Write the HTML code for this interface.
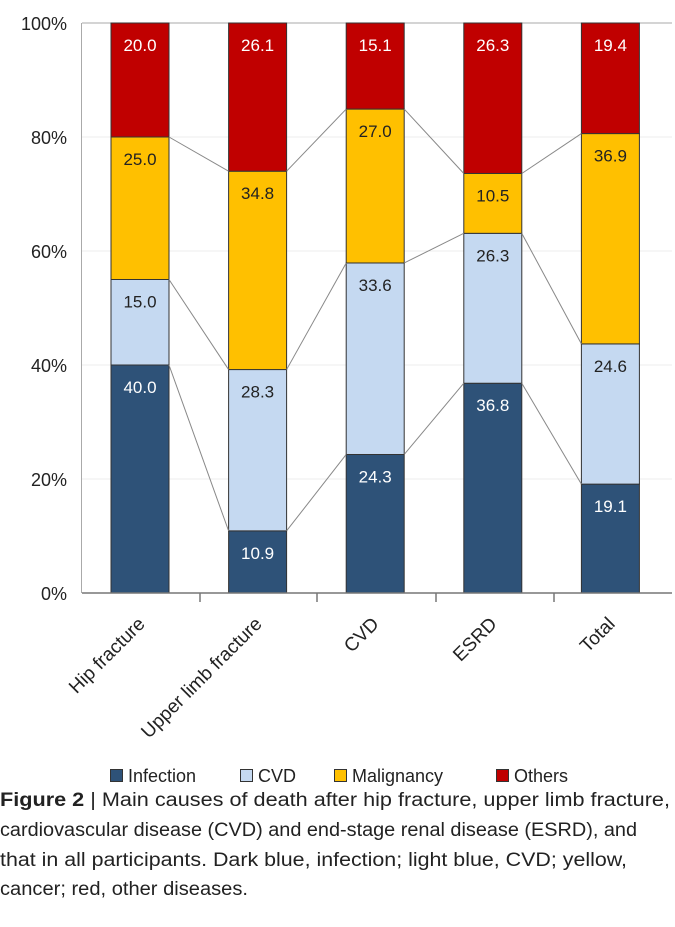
<!DOCTYPE html>
<html><head><style>
body{margin:0;background:#fff;}
svg{display:block;font-family:"Liberation Sans",sans-serif;}
</style></head><body>
<svg width="675" height="927" viewBox="0 0 675 927">
<g stroke="#eee" stroke-width="1">
<line x1="82" y1="23" x2="672" y2="23"/><line x1="82" y1="137" x2="672" y2="137"/><line x1="82" y1="251" x2="672" y2="251"/><line x1="82" y1="365" x2="672" y2="365"/><line x1="82" y1="479" x2="672" y2="479"/>
</g>
<line x1="81.5" y1="23" x2="81.5" y2="593" stroke="#aaa"/>
<line x1="82" y1="23" x2="672" y2="23" stroke="#aaa"/>
<g fill="#222" font-size="18" text-anchor="end">
<text x="67" y="30">100%</text><text x="67" y="144">80%</text><text x="67" y="258">60%</text><text x="67" y="372">40%</text><text x="67" y="486">20%</text><text x="67" y="600">0%</text>
</g>
<g id="bars" stroke="#333" stroke-width="1" font-size="17" text-anchor="middle"></g>
<line x1="82" y1="593" x2="672" y2="593" stroke="#777" stroke-width="1.5"/>
<g stroke="#777" stroke-width="1.5"><line x1="200" y1="593" x2="200" y2="602"/><line x1="317" y1="593" x2="317" y2="602"/><line x1="436" y1="593" x2="436" y2="602"/><line x1="554" y1="593" x2="554" y2="602"/></g>
<g fill="#222" font-size="19" text-anchor="end">
<text transform="translate(146,625) rotate(-45)">Hip fracture</text>
<text transform="translate(263,625) rotate(-45)">Upper limb fracture</text>
<text transform="translate(380,625) rotate(-45)">CVD</text>
<text transform="translate(498,625) rotate(-45)">ESRD</text>
<text transform="translate(616,625) rotate(-45)">Total</text>
</g>
<g stroke="#333" stroke-width="1">
<rect x="110.5" y="769.5" width="12" height="12" fill="#2e5278"/>
<rect x="240.5" y="769.5" width="12" height="12" fill="#c5d9f1"/>
<rect x="334.5" y="769.5" width="12" height="12" fill="#ffc000"/>
<rect x="496.5" y="769.5" width="12" height="12" fill="#c00000"/>
</g>
<g font-size="18" fill="#222">
<text x="128" y="782">Infection</text><text x="258" y="782">CVD</text><text x="352" y="782">Malignancy</text><text x="514" y="782">Others</text>
</g>
<g font-size="19" fill="#222">
<text x="0" y="806" textLength="670" lengthAdjust="spacingAndGlyphs"><tspan font-weight="bold">Figure 2</tspan> | Main causes of death after hip fracture, upper limb fracture,</text>
<text x="0" y="836" textLength="637" lengthAdjust="spacingAndGlyphs">cardiovascular disease (CVD) and end-stage renal disease (ESRD), and</text>
<text x="0" y="866" textLength="627" lengthAdjust="spacingAndGlyphs">that in all participants. Dark blue, infection; light blue, CVD; yellow,</text>
<text x="0" y="895" textLength="248" lengthAdjust="spacingAndGlyphs">cancer; red, other diseases.</text>
</g>
</svg>
<script>
var data=[[40,15,25,20],[10.9,28.3,34.8,26.1],[24.3,33.6,27.0,15.1],[36.8,26.3,10.5,26.3],[19.1,24.6,36.9,19.4]];
var cols=["#2e5278","#c5d9f1","#ffc000","#c00000"],tc=["#fff","#222","#222","#fff"];
var g=document.getElementById("bars"),s="";
function Y(p){return 593-p*5.7;}
var x0=111,w=58,step=117.6,cum=[];
data.forEach(function(d,i){var c=0,x=x0+i*step,cc=[];d.forEach(function(v,j){var top=(j==3)?100:c+v;
s+='<rect x="'+x+'" y="'+Y(top)+'" width="'+w+'" height="'+(Y(c)-Y(top))+'" fill="'+cols[j]+'"/>';
s+='<text stroke="none" fill="'+tc[j]+'" x="'+(x+w/2)+'" y="'+(Y(top)+28)+'">'+v.toFixed(1)+'</text>';
c=top;cc.push(c);});cum.push(cc);});
for(var i=0;i<4;i++)for(var j=0;j<3;j++){var xa=x0+i*step+w,xb=x0+(i+1)*step;
s+='<line stroke="#888" x1="'+xa+'" y1="'+Y(cum[i][j])+'" x2="'+xb+'" y2="'+Y(cum[i+1][j])+'"/>';}
g.innerHTML=s;
</script>
</body></html>
